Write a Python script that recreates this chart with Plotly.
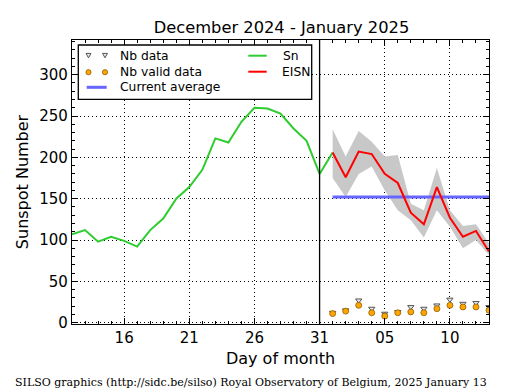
import plotly.graph_objects as go

# ---------------- data ----------------
dec_days = list(range(12, 32))            # December 12 .. 31
jan_days = list(range(1, 14))             # January 1 .. 13
month_end = 31                            # last day of December on the day axis
sn_values = [107, 112, 98, 104, 99, 92, 112, 126, 150, 164, 185, 223, 218,
             243, 260, 259, 253, 235, 220, 180, 206]          # Dec 12 .. Jan 1
eisn_values = [206, 176, 207, 204, 180, 169, 133, 119, 164, 127, 104, 111, 86]
eisn_upper = [234, 201, 232, 219, 201, 203, 144, 136, 187, 136, 117, 119, 96]
eisn_lower = [175, 152, 180, 189, 160, 136, 124, 103, 136, 116, 90, 100, 82]
nb_data = [12, 15, 27, 17, 11, 13, 19, 17, 21, 28, 23, 24, 19]
nb_valid = [11, 14, 21, 12, 8, 12, 13, 12, 17, 21, 19, 19, 15]
current_average = 152
tick_days = [16, 21, 26, 31, 36, 41]
tick_labels = ["16", "21", "26", "31", "05", "10"]

jan_x = [month_end + d for d in jan_days]
sn_x = dec_days + [jan_x[0]]

GREEN = "#2ecc2e"
RED = "#ff0000"
BLUE = "#6666ff"
BAND = "#c8c8c8"
ORANGE = "#ffa500"
FONT = "DejaVu Sans"

fig = go.Figure()

# uncertainty band
fig.add_trace(go.Scatter(x=jan_x, y=eisn_lower, mode="lines", line=dict(width=0),
                         hoverinfo="skip", showlegend=False))
fig.add_trace(go.Scatter(x=jan_x, y=eisn_upper, mode="lines", line=dict(width=0),
                         fill="tonexty", fillcolor=BAND, hoverinfo="skip",
                         showlegend=False))
# Sn
fig.add_trace(go.Scatter(x=sn_x, y=sn_values, mode="lines", name="Sn",
                         line=dict(color=GREEN, width=2)))
# current average
fig.add_trace(go.Scatter(x=[jan_x[0], jan_x[-1]], y=[current_average] * 2,
                         mode="lines", name="Current average",
                         line=dict(color=BLUE, width=3)))
# EISN
fig.add_trace(go.Scatter(x=jan_x, y=eisn_values, mode="lines", name="EISN",
                         line=dict(color=RED, width=2)))
# Nb data / valid
fig.add_trace(go.Scatter(x=jan_x, y=nb_data, mode="markers", name="Nb data",
                         marker=dict(symbol="triangle-down", size=5.5,
                                     color="#e8e8e8",
                                     line=dict(color="#555555", width=1))))
fig.add_trace(go.Scatter(x=jan_x, y=nb_valid, mode="markers", name="Nb valid data",
                         marker=dict(symbol="circle", size=6, color=ORANGE,
                                     line=dict(color="#7a5200", width=0.7))))

# ---------------- layout ----------------
L, R, T, B = 72, 489, 40, 324
W, H = 515, 390


def px(x):
    return (x - L) / (R - L)


def py(y):
    return (B - y) / (B - T)


shapes = []
# month boundary
shapes.append(dict(type="line", xref="x", yref="paper", x0=month_end, x1=month_end,
                   y0=0, y1=1, line=dict(color="black", width=1.3)))
# legend box
shapes.append(dict(type="rect", xref="paper", yref="paper", x0=px(78.3), x1=px(311.7),
                   y0=py(99.3), y1=py(45), line=dict(color="black", width=1.3),
                   fillcolor="white", layer="above"))
# legend glyphs
for cx in (88.5, 105):
    cy = 55.5
    shapes.append(dict(type="path", xref="paper", yref="paper",
                       path=f"M {px(cx-2.5)},{py(cy-2.1)} L {px(cx+2.5)},{py(cy-2.1)} "
                            f"L {px(cx)},{py(cy+2.3)} Z",
                       fillcolor="#e8e8e8", line=dict(color="#555555", width=1)))
    cy = 72.2
    shapes.append(dict(type="circle", xref="paper", yref="paper",
                       x0=px(cx-2.6), x1=px(cx+2.6), y0=py(cy+2.6), y1=py(cy-2.6),
                       fillcolor=ORANGE, line=dict(color="#7a5200", width=0.7)))
shapes.append(dict(type="line", xref="paper", yref="paper", x0=px(86.7), x1=px(106.7),
                   y0=py(87.3), y1=py(87.3), line=dict(color=BLUE, width=3)))
shapes.append(dict(type="line", xref="paper", yref="paper", x0=px(248.3), x1=px(266.7),
                   y0=py(55.7), y1=py(55.7), line=dict(color=GREEN, width=2)))
shapes.append(dict(type="line", xref="paper", yref="paper", x0=px(248.3), x1=px(266.7),
                   y0=py(71.7), y1=py(71.7), line=dict(color=RED, width=2)))

annotations = []
for text, x, y in [("Nb data", 118.3, 55.7), ("Nb valid data", 118.3, 71.7),
                   ("Current average", 118.3, 87.0), ("Sn", 280.5, 55.7),
                   ("EISN", 280.0, 71.7)]:
    annotations.append(dict(text=text, xref="paper", yref="paper", x=px(x), y=py(y),
                            xanchor="left", yanchor="middle", showarrow=False,
                            font=dict(family=FONT, size=12.3, color="black")))
annotations.append(dict(
    text="SILSO graphics (http://sidc.be/silso) Royal Observatory of Belgium, 2025 January 13",
    xref="paper", yref="paper", x=px(13), y=py(382), xanchor="left", yanchor="middle",
    showarrow=False, font=dict(family="DejaVu Serif", size=11, color="black")))

axis_common = dict(
    showline=True, linecolor="black", linewidth=1.3, mirror="allticks",
    ticks="inside", ticklen=6, tickwidth=1, tickcolor="black",
    showgrid=True, gridcolor="black", griddash="1px,3px", gridwidth=1,
    zeroline=False, tickfont=dict(family=FONT, size=15, color="black"),
)

fig.update_layout(
    width=W, height=H,
    margin=dict(l=L, r=W - R, t=T, b=H - B),
    plot_bgcolor="white", paper_bgcolor="white",
    showlegend=False,
    title=dict(text="December 2024 - January 2025", x=px(281.5), xref="paper",
               y=1 - 27 / H, yref="container", xanchor="center", yanchor="middle",
               font=dict(family=FONT, size=16.3, color="black")),
    xaxis=dict(range=[12, 44], tickvals=tick_days, ticktext=tick_labels,
               minor=dict(ticks="inside", dtick=1, tick0=12, ticklen=3,
                          tickcolor="black", showgrid=False),
               title=dict(text="Day of month", standoff=6,
                          font=dict(family=FONT, size=16, color="black")),
               **axis_common),
    yaxis=dict(range=[-1.6, 342], tickvals=[0, 50, 100, 150, 200, 250, 300],
               minor=dict(ticks="inside", dtick=10, tick0=0, ticklen=3,
                          tickcolor="black", showgrid=False),
               title=dict(text="Sunspot Number", standoff=6,
                          font=dict(family=FONT, size=16, color="black")),
               **axis_common),
    shapes=shapes,
    annotations=annotations,
)

fig.write_html("out.html", config={"displayModeBar": False},
               post_script="document.body.style.margin='0';")
